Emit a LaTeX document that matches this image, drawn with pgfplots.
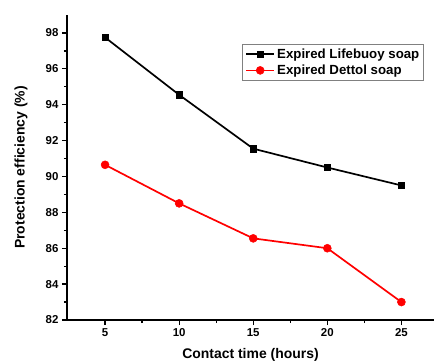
\documentclass[border=0pt]{standalone}
\usepackage{fontspec}
\setmainfont{Liberation Sans}
\usepackage{pgfplots}
\pgfplotsset{compat=1.18}
\begin{document}
\begin{tikzpicture}
\begin{axis}[
  scale only axis,
  width=367bp, height=305bp,
  xmin=2.43, xmax=27.2,
  ymin=82, ymax=99,
  axis x line*=bottom, axis y line*=left,
  axis line style={line width=1.8pt, -},
  xtick={5,10,15,20,25},
  ytick={82,84,86,88,90,92,94,96,98},
  minor x tick num=1, minor y tick num=1,
  tick align=outside,
  major tick length=5bp, minor tick length=3bp,
  tick style={line width=1.3pt, black},
  every tick label/.append style={font=\fontsize{11.5}{13}\selectfont\bfseries},
  /pgf/number format/assume math mode=true,
  xlabel={\fontsize{14}{16}\selectfont\bfseries Contact time (hours)},
  ylabel={\fontsize{14}{16}\selectfont\bfseries Protection efficiency (\%)},
  xlabel style={at={(axis description cs:0.5,-0.1148)}, anchor=center},
  ylabel style={at={(axis description cs:-0.125,0.5)}, anchor=center},
  legend style={at={(0.973,0.905)}, anchor=north east, draw=gray, line width=0.6pt,
    font=\fontsize{13.3}{15}\selectfont\bfseries, row sep=1pt, inner sep=2.5pt},
  legend image code/.code={
    \draw[mark repeat=2,mark phase=2] plot coordinates {(0cm,0cm) (0.5cm,0cm) (1.0cm,0cm)};},
  legend cell align=left,
  clip=false,
]
\addplot[black, line width=1.7pt, mark=square*, mark size=3.2bp, mark options={line width=0.5pt}] coordinates {
 (5,97.75) (10,94.55) (15,91.55) (20,90.5) (25,89.5)};
\addlegendentry{Expired Lifebuoy soap}
\addplot[red, line width=1.7pt, mark=*, mark size=4bp, mark options={line width=0.5pt}] coordinates {
 (5,90.65) (10,88.5) (15,86.55) (20,86.0) (25,83.0)};
\addlegendentry{Expired Dettol soap}
\end{axis}
\pgfresetboundingbox
\useasboundingbox (-67bp,-42bp) rectangle (367bp,320bp);
\end{tikzpicture}
\end{document}
